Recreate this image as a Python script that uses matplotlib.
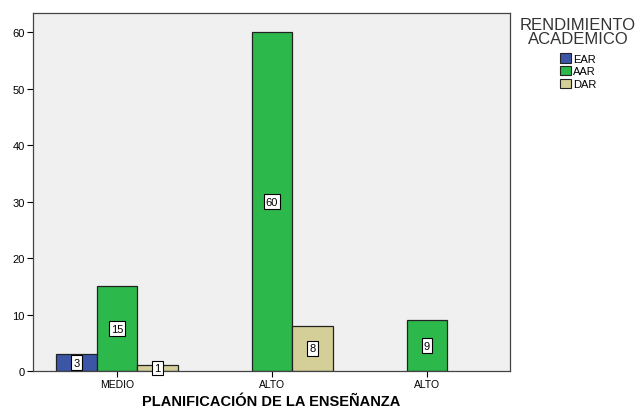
import numpy as np
import matplotlib
matplotlib.use('Agg')
import matplotlib.pyplot as plt
from matplotlib.patches import Patch

plt.rcParams['font.family'] = ['Liberation Sans', 'DejaVu Sans']

########## data
categorias = ['MEDIO', 'ALTO', 'ALTO']
series = ['EAR', 'AAR', 'DAR']
valores_EAR = [3, None, None]
valores_AAR = [15, 60, 9]
valores_DAR = [1, 8, None]
colores = ['#3B56A6', '#2DB84B', '#D4CF98']

fig = plt.figure(figsize=(6.43, 4.10), dpi=100)
ax = fig.add_axes([0.0513, 0.0927, 0.7417, 0.8733])
ax.set_facecolor('#F0F0F0')

x = np.arange(len(categorias))
ancho = 0.262
desplaz = [-1, 0, 1]

for serie, vals, col, d in zip(series, [valores_EAR, valores_AAR, valores_DAR], colores, desplaz):
	for xi, v in zip(x, vals):
		if v is None:
			continue
		xb = xi + d*ancho
		ax.bar(xb, v, width=ancho, color=col, edgecolor='#222222', linewidth=0.9, zorder=2)
		ax.text(xb, v/2., str(v), ha='center', va='center', fontsize=8,
			bbox=dict(boxstyle='square,pad=0.2', fc='white', ec='black', lw=0.8), zorder=3)

ax.set_xlim(-0.542, 2.535)
ax.set_ylim(0, 63.4)
ax.set_xticks(x)
ax.set_xticklabels(categorias, fontsize=7.5)
ax.set_yticks([0, 10, 20, 30, 40, 50, 60])
ax.tick_params(axis='y', labelsize=8, direction='out', length=4, pad=2)
ax.tick_params(axis='x', direction='out', length=4, pad=1.5)
for s in ax.spines.values():
	s.set_color('#444444')
	s.set_linewidth(0.9)

ax.set_xlabel('PLANIFICACIÓN DE LA ENSEÑANZA', fontsize=10.5, fontweight='bold', labelpad=4)

handles = [Patch(facecolor=c, edgecolor='#222222', lw=0.8) for c in colores]
leg = fig.legend(handles, series, title='RENDIMIENTO\nACADEMICO', loc='upper center',
	bbox_to_anchor=(0.899, 0.975), frameon=False, fontsize=8, title_fontsize=12,
	handlelength=1.0, handleheight=0.9, handletextpad=0.2, labelspacing=0.2,
	borderpad=0.2)
leg.get_title().set_multialignment('center')
leg.get_title().set_linespacing(0.95)
leg.get_title().set_color('#333333')
leg._legend_box.align = 'center'
leg._legend_box.sep = 5

fig.savefig('out.png', dpi=100)
plt.close()
